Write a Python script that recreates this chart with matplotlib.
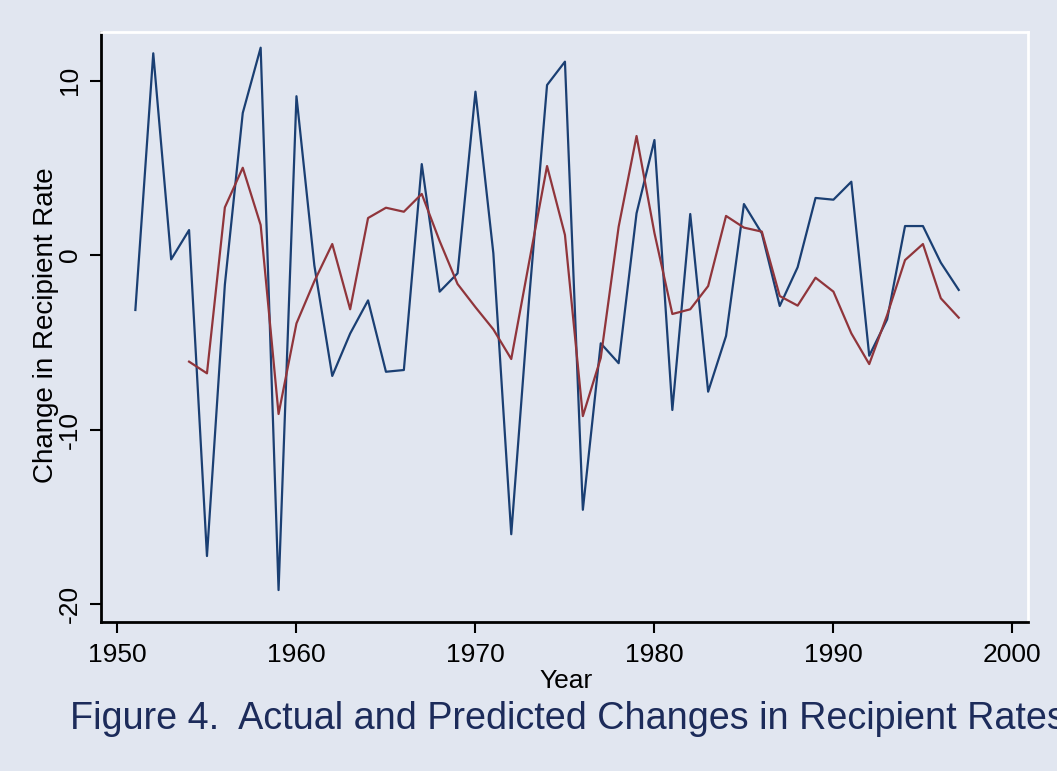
import matplotlib
matplotlib.use('Agg')
from matplotlib import pyplot as plt

plt.rcParams['font.family'] = ['Liberation Sans', 'DejaVu Sans']

# Actual changes in recipient rate
years_actual = list(range(1951, 1998))
actual = [-3.15, 11.56, -0.25, 1.43, -17.25, -1.7, 8.14, 11.88, -19.2, 9.1,
          -0.6, -6.93, -4.5, -2.6, -6.69, -6.59, 5.21, -2.1, -1.05, 9.36,
          0.1, -16.0, -2.5, 9.74, 11.08, -14.6, -5.06, -6.2, 2.39, 6.59,
          -8.88, 2.35, -7.83, -4.64, 2.92, 1.24, -2.92, -0.7, 3.27, 3.17,
          4.2, -5.77, -3.69, 1.66, 1.66, -0.44, -2.0]

# Predicted changes
years_pred = list(range(1954, 1998))
predicted = [-6.11, -6.78, 2.73, 5.0, 1.72, -9.11, -3.92, -1.5, 0.63, -3.11,
             2.12, 2.71, 2.48, 3.5, 0.8, -1.66, -2.99, -4.26, -5.96, -0.4,
             5.1, 1.15, -9.23, -5.9, 1.62, 6.82, 1.26, -3.38, -3.11, -1.78,
             2.24, 1.57, 1.34, -2.35, -2.9, -1.3, -2.1, -4.49, -6.25, -3.44,
             -0.29, 0.63, -2.48, -3.59]

xticks = [1950, 1960, 1970, 1980, 1990, 2000]
yticks = [-20, -10, 0, 10]

bg = '#E1E6F0'
fig = plt.figure(figsize=(10.57, 7.71), dpi=100, facecolor=bg)
ax = fig.add_axes([101 / 1057, 1 - 622 / 771, 927 / 1057, 590 / 771])
ax.set_facecolor(bg)

ax.plot(years_actual, actual, color='#1A3F73', linewidth=1.6)
ax.plot(years_pred, predicted, color='#90353B', linewidth=1.6)

ax.set_xlim(1949.08, 2000.87)
ax.set_ylim(-21.03, 12.78)
ax.set_xticks(xticks)
ax.set_yticks(yticks)
ax.set_yticklabels([str(v) for v in yticks], rotation=90, va='center')

for side in ['left', 'bottom']:
    ax.spines[side].set_color('black')
    ax.spines[side].set_linewidth(2)
for side in ['top', 'right']:
    ax.spines[side].set_color('white')
    ax.spines[side].set_linewidth(2)

ax.tick_params(axis='both', direction='out', length=8, width=1.5,
               labelsize=19, colors='black')
ax.tick_params(axis='x', pad=7)
ax.tick_params(axis='y', pad=6)

ax.set_xlabel('Year', fontsize=19)
ax.xaxis.set_label_coords(0.5016, -0.079)
ax.set_ylabel('Change in Recipient Rate', fontsize=20)
ax.yaxis.set_label_coords(-0.045, 0.503)

# caption runs off the right edge, as in the original figure
fig.text(70 / 1057, 1 - 719 / 771,
         'Figure 4.  Actual and Predicted Changes in Recipient Rates',
         fontsize=27.2, color='#1C2B5A', va='center', ha='left')

fig.savefig('out.png', dpi=100, facecolor=bg)
